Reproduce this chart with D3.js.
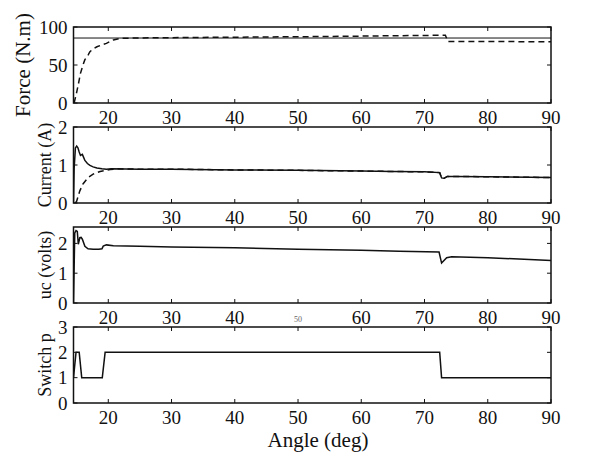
<!DOCTYPE html>
<html>
<head>
<meta charset="utf-8">
<title>Switch response</title>
<style>
body { margin: 0; background: #fff; }
.frame { fill: none; stroke: #111; stroke-width: 1.5px; }
.tick { stroke: #111; stroke-width: 1px; }
.trace { fill: none; stroke: #111; stroke-width: 1.5px; }
.trace.dashed { stroke-dasharray: 6,4; }
.trace.thin { stroke-width: 1px; }
</style>
</head>
<body>
<svg id="chart" width="600" height="467" font-family="'Liberation Serif', 'Times New Roman', Times, 'DejaVu Serif', serif"></svg>
<script src="https://d3js.org/d3.v7.min.js"></script>
<script>
// x axis
var xDomain = [14.5, 90];
var xTicks = [20, 30, 40, 50, 60, 70, 80, 90];

// panel 1: force
var forceRefAngle = [14.5, 90];
var forceRef = [85.5, 85.5];
var forceAngle = [14.6, 15.0, 15.3, 15.6, 16.0, 16.3, 16.8, 17.1, 17.6, 18.2, 19.0, 19.7, 20.8, 21.8, 25, 30, 40, 50, 60, 65, 70, 73.3, 73.7, 80, 90];
var force      = [0, 14, 26, 39, 50, 57, 63, 67.5, 71, 74, 76.5, 78.5, 83, 85, 85.6, 86, 86.6, 87.2, 88, 88.5, 88.9, 89.2, 81, 80.8, 80.7];

// panel 2: current (solid) and reference current (dashed)
var currentAngle = [14.5, 14.6, 14.8, 15.0, 15.2, 15.4, 15.6, 15.9, 16.1, 16.3, 16.7, 17.1, 17.6, 18.2, 19.0, 19.7, 20.5, 25, 30, 40, 50, 60, 65, 70, 72.4, 72.7, 73.1, 73.6, 75, 80, 90];
var current      = [0, 0.9, 1.45, 1.5, 1.45, 1.34, 1.25, 1.28, 1.2, 1.12, 1.04, 0.99, 0.95, 0.92, 0.9, 0.89, 0.9, 0.89, 0.89, 0.87, 0.86, 0.84, 0.83, 0.82, 0.8, 0.66, 0.65, 0.7, 0.7, 0.69, 0.67];
var currentRefAngle = [14.8, 15.0, 15.5, 16.0, 16.8, 17.6, 18.7, 20.3, 21.5, 25, 30, 40, 50, 60, 65, 70, 72.4, 72.7, 73.1, 73.6, 75, 80, 90];
var currentRef      = [0, 0.05, 0.32, 0.5, 0.67, 0.76, 0.83, 0.88, 0.9, 0.89, 0.89, 0.87, 0.86, 0.84, 0.83, 0.82, 0.8, 0.66, 0.65, 0.7, 0.7, 0.69, 0.67];

// panel 3: uc
var ucAngle = [14.5, 14.7, 14.9, 15.1, 15.26, 15.5, 15.7, 15.9, 16.3, 16.8, 17.6, 18.5, 19.0, 19.2, 19.7, 20.8, 25, 30, 40, 50, 60, 66, 72.3, 72.7, 73.5, 74.3, 80, 90];
var uc      = [0, 2.35, 2.43, 2.4, 1.97, 2.19, 2.2, 2.14, 1.9, 1.82, 1.8, 1.8, 1.82, 1.91, 1.95, 1.92, 1.9, 1.88, 1.85, 1.8, 1.77, 1.74, 1.71, 1.34, 1.52, 1.55, 1.52, 1.43];

// panel 4: switch position
var switchAngle = [14.5, 14.9, 15.4, 15.8, 19.05, 19.5, 72.4, 72.7, 90];
var switchPos   = [1, 2, 2, 1, 1, 2, 2, 1, 1];

function zip(xs, ys) { return xs.map(function (x, i) { return [x, ys[i]]; }); }

var panels = [
  { label: "Force (N.m)", domain: [0, 100], ticks: [0, 50, 100], labelX: 30, labelSize: 21,
    series: [ { pts: zip(forceRefAngle, forceRef), cls: "thin" },
              { pts: zip(forceAngle, force), cls: "dashed" } ] },
  { label: "Current (A)", domain: [0, 2], ticks: [0, 1, 2], labelX: 51, labelSize: 18,
    series: [ { pts: zip(currentAngle, current), cls: "" },
              { pts: zip(currentRefAngle, currentRef), cls: "dashed" } ] },
  { label: "uc (volts)", domain: [0, 2.55], ticks: [0, 1, 2], labelX: 51, labelSize: 18, smallFifty: true,
    series: [ { pts: zip(ucAngle, uc), cls: "" } ] },
  { label: "Switch p", domain: [0, 3], ticks: [0, 1, 2, 3], labelX: 51, labelSize: 18,
    series: [ { pts: zip(switchAngle, switchPos), cls: "" } ] }
];

var svg = d3.select("#chart");
var left = 73.5, right = 551, panelH = 76;
var tops = [27, 127, 227, 327];

var x = d3.scaleLinear().domain(xDomain).range([left, right]);

panels.forEach(function (p, i) {
  var top = tops[i], bottom = top + panelH;
  var y = d3.scaleLinear().domain(p.domain).range([bottom, top]);
  var g = svg.append("g").attr("class", "panel");

  var line = d3.line().x(function (d) { return x(d[0]); }).y(function (d) { return y(d[1]); });

  var clipId = "clip" + i;
  g.append("clipPath").attr("id", clipId).append("rect")
    .attr("x", left).attr("y", top).attr("width", right - left).attr("height", panelH);

  p.series.forEach(function (s) {
    g.append("path").attr("class", "trace " + s.cls)
      .attr("clip-path", "url(#" + clipId + ")")
      .attr("d", line(s.pts));
  });

  // inward ticks on all four sides
  xTicks.forEach(function (t) {
    g.append("line").attr("class", "tick").attr("x1", x(t)).attr("x2", x(t)).attr("y1", bottom).attr("y2", bottom - 4);
    g.append("line").attr("class", "tick").attr("x1", x(t)).attr("x2", x(t)).attr("y1", top).attr("y2", top + 4);
    var small = p.smallFifty && t === 50;
    g.append("text")
      .attr("x", x(t)).attr("y", bottom + (small ? 19 : 21))
      .attr("text-anchor", "middle")
      .attr("font-size", small ? 8 : 19)
      .attr("fill", small ? "#666" : "#111")
      .text(t);
  });
  p.ticks.forEach(function (t) {
    g.append("line").attr("class", "tick").attr("x1", left).attr("x2", left + 4).attr("y1", y(t)).attr("y2", y(t));
    g.append("line").attr("class", "tick").attr("x1", right).attr("x2", right - 4).attr("y1", y(t)).attr("y2", y(t));
    g.append("text")
      .attr("x", left - 6).attr("y", y(t))
      .attr("text-anchor", "end").attr("dy", "0.35em")
      .attr("font-size", 19)
      .attr("fill", "#111")
      .text(t);
  });

  g.append("rect").attr("class", "frame")
    .attr("x", left).attr("y", top).attr("width", right - left).attr("height", panelH);

  g.append("text")
    .attr("transform", "translate(" + p.labelX + "," + (top + panelH / 2) + ") rotate(-90)")
    .attr("text-anchor", "middle")
    .attr("font-size", p.labelSize)
    .attr("fill", "#111")
    .text(p.label);
});

svg.append("text")
  .attr("x", 318).attr("y", 447)
  .attr("text-anchor", "middle")
  .attr("font-size", 21)
  .attr("fill", "#111")
  .text("Angle (deg)");
</script>
</body>
</html>
